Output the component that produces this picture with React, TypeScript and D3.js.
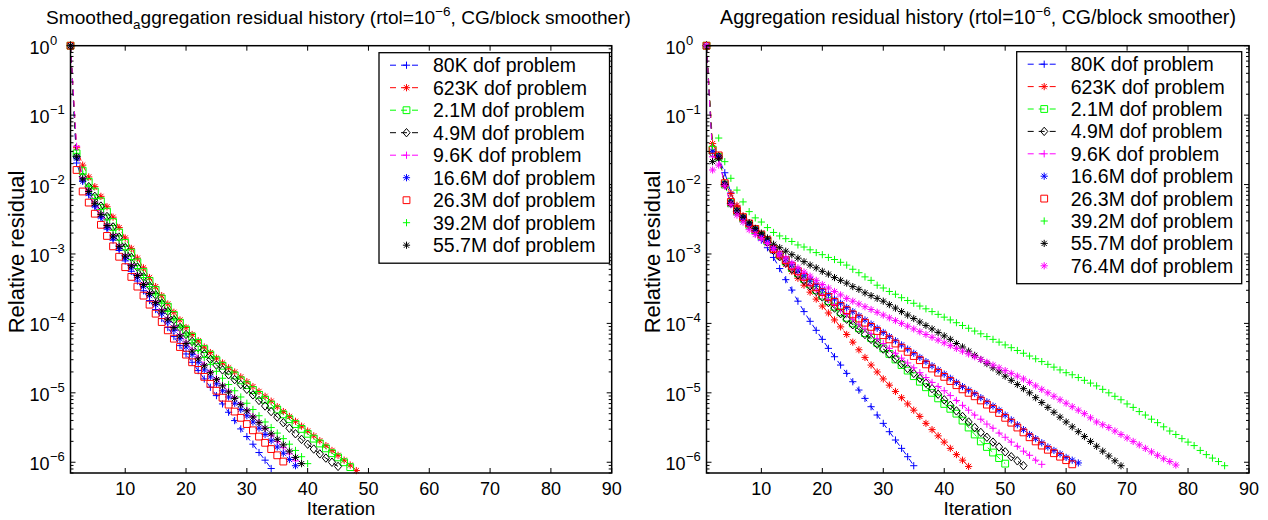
import React from 'react';
import * as d3 from 'd3';

const FONT = "'Liberation Sans', Arial, Helvetica, sans-serif";

// ---------- shared axis data ----------
const xTicks = [10, 20, 30, 40, 50, 60, 70, 80, 90];
const yDecades = [0, -1, -2, -3, -4, -5, -6];
const xDomain = [1, 90];
const yDomain = [7e-7, 1];

const legendLabelsLeft = [
  '80K dof problem', '623K dof problem', '2.1M dof problem', '4.9M dof problem',
  '9.6K dof problem', '16.6M dof problem', '26.3M dof problem', '39.2M dof problem',
  '55.7M dof problem',
];
const legendLabelsRight = [...legendLabelsLeft, '76.4M dof problem'];

// ---------- left: smoothed aggregation (log10 of relative residual, iteration 1..n) ----------
const sa80K = [0, -1.69, -1.95, -2.15, -2.32, -2.48, -2.64, -2.8, -2.95, -3.1, -3.25, -3.39, -3.53, -3.67, -3.8, -3.93, -4.06, -4.19, -4.32, -4.44, -4.56, -4.68, -4.8, -4.92, -5.04, -5.16, -5.28, -5.4, -5.52, -5.63, -5.74, -5.86, -5.97, -6.09];
const sa623K = [0, -1.47, -1.72, -1.89, -2.03, -2.17, -2.32, -2.47, -2.62, -2.77, -2.92, -3.06, -3.2, -3.34, -3.47, -3.6, -3.72, -3.84, -3.95, -4.06, -4.16, -4.25, -4.34, -4.42, -4.5, -4.57, -4.64, -4.7, -4.77, -4.84, -4.91, -4.98, -5.05, -5.12, -5.2, -5.27, -5.34, -5.41, -5.48, -5.55, -5.62, -5.69, -5.76, -5.83, -5.9, -5.97, -6.04, -6.12];
const sa2_1M = [0, -1.55, -1.8, -1.96, -2.1, -2.24, -2.39, -2.54, -2.69, -2.84, -2.98, -3.12, -3.26, -3.39, -3.52, -3.64, -3.76, -3.88, -3.99, -4.09, -4.19, -4.28, -4.37, -4.45, -4.53, -4.61, -4.68, -4.75, -4.82, -4.89, -4.96, -5.03, -5.1, -5.17, -5.24, -5.31, -5.38, -5.45, -5.52, -5.59, -5.66, -5.73, -5.8, -5.87, -5.93, -6.0, -6.07];
const sa4_9M = [0, -1.6, -1.89, -2.03, -2.17, -2.31, -2.46, -2.61, -2.76, -2.91, -3.05, -3.19, -3.33, -3.46, -3.59, -3.71, -3.83, -3.95, -4.06, -4.16, -4.26, -4.35, -4.44, -4.52, -4.6, -4.67, -4.74, -4.81, -4.88, -4.95, -5.03, -5.11, -5.19, -5.27, -5.35, -5.43, -5.51, -5.59, -5.67, -5.74, -5.81, -5.88, -5.94, -6.0, -6.06];
const sa9_6K = [0, -1.45, -1.9, -2.08, -2.25, -2.41, -2.57, -2.72, -2.87, -3.01, -3.15, -3.29, -3.42, -3.55, -3.68, -3.8, -3.92, -4.04, -4.16, -4.27, -4.38, -4.49, -4.59, -4.69, -4.79, -4.89, -4.98, -5.07, -5.16, -5.25, -5.34, -5.43, -5.52, -5.61, -5.7, -5.79, -5.88, -5.98];
const sa16_6M = [0, -1.62, -1.95, -2.13, -2.3, -2.46, -2.62, -2.77, -2.92, -3.06, -3.2, -3.34, -3.47, -3.6, -3.73, -3.86, -3.98, -4.1, -4.22, -4.34, -4.45, -4.56, -4.67, -4.77, -4.87, -4.97, -5.06, -5.15, -5.24, -5.33, -5.42, -5.51, -5.6, -5.69, -5.78, -5.87, -5.96, -6.05];
const sa26_3M = [0, -1.79, -2.1, -2.26, -2.42, -2.58, -2.74, -2.89, -3.04, -3.19, -3.33, -3.47, -3.6, -3.73, -3.86, -3.98, -4.1, -4.22, -4.34, -4.45, -4.56, -4.67, -4.77, -4.87, -4.97, -5.07, -5.17, -5.27, -5.36, -5.45, -5.54, -5.63, -5.72, -5.81, -5.9, -5.99];
const sa39_2M = [0, -1.55, -1.85, -2.03, -2.2, -2.36, -2.51, -2.66, -2.8, -2.94, -3.08, -3.21, -3.34, -3.47, -3.59, -3.71, -3.83, -3.95, -4.06, -4.17, -4.28, -4.39, -4.49, -4.59, -4.69, -4.79, -4.88, -4.97, -5.06, -5.15, -5.24, -5.33, -5.42, -5.5, -5.58, -5.66, -5.74, -5.83, -5.92, -6.02];
const sa55_7M = [0, -1.6, -1.92, -2.1, -2.27, -2.43, -2.59, -2.74, -2.89, -3.03, -3.17, -3.31, -3.44, -3.57, -3.7, -3.82, -3.94, -4.06, -4.18, -4.29, -4.4, -4.51, -4.61, -4.71, -4.81, -4.9, -4.99, -5.08, -5.17, -5.26, -5.35, -5.43, -5.51, -5.59, -5.67, -5.75, -5.84, -5.93, -6.02];

// ---------- right: plain aggregation (log10 of relative residual, iteration 1..n) ----------
const ag80K = [0, -1.55, -1.62, -1.83, -2.12, -2.32, -2.46, -2.58, -2.7, -2.8, -2.91, -3.05, -3.21, -3.37, -3.52, -3.68, -3.83, -3.97, -4.1, -4.23, -4.36, -4.48, -4.6, -4.72, -4.84, -4.96, -5.08, -5.2, -5.32, -5.44, -5.56, -5.68, -5.8, -5.92, -6.05];
const ag623K = [0, -1.41, -1.58, -1.98, -2.13, -2.3, -2.45, -2.56, -2.66, -2.75, -2.85, -2.95, -3.04, -3.15, -3.25, -3.35, -3.45, -3.55, -3.65, -3.75, -3.85, -3.95, -4.05, -4.16, -4.27, -4.38, -4.49, -4.6, -4.7, -4.8, -4.89, -4.98, -5.07, -5.16, -5.25, -5.34, -5.44, -5.53, -5.62, -5.71, -5.8, -5.89, -5.97, -6.06];
const ag2_1M = [0, -1.5, -1.6, -2.0, -2.27, -2.39, -2.49, -2.58, -2.66, -2.74, -2.82, -2.93, -3.02, -3.11, -3.2, -3.28, -3.36, -3.44, -3.52, -3.6, -3.68, -3.76, -3.84, -3.92, -4.0, -4.07, -4.14, -4.21, -4.28, -4.36, -4.44, -4.52, -4.6, -4.68, -4.76, -4.84, -4.92, -5.0, -5.08, -5.16, -5.23, -5.3, -5.4, -5.5, -5.6, -5.7, -5.78, -5.86, -5.94, -6.02];
const ag4_9M = [0, -1.55, -1.6, -2.0, -2.27, -2.39, -2.49, -2.58, -2.66, -2.74, -2.83, -2.95, -3.04, -3.13, -3.22, -3.3, -3.38, -3.46, -3.54, -3.62, -3.7, -3.78, -3.86, -3.94, -4.02, -4.09, -4.16, -4.23, -4.3, -4.37, -4.44, -4.51, -4.58, -4.65, -4.72, -4.79, -4.86, -4.94, -5.02, -5.1, -5.18, -5.26, -5.34, -5.42, -5.5, -5.57, -5.64, -5.71, -5.78, -5.85, -5.92, -5.98, -6.05];
const ag9_6K = [0, -1.6, -1.62, -2.02, -2.28, -2.4, -2.5, -2.6, -2.68, -2.76, -2.84, -2.95, -3.04, -3.13, -3.21, -3.29, -3.37, -3.45, -3.52, -3.59, -3.66, -3.73, -3.8, -3.87, -3.94, -4.01, -4.08, -4.15, -4.22, -4.29, -4.36, -4.43, -4.5, -4.57, -4.64, -4.71, -4.78, -4.85, -4.91, -4.97, -5.04, -5.11, -5.18, -5.25, -5.32, -5.38, -5.45, -5.51, -5.58, -5.64, -5.71, -5.77, -5.84, -5.9, -5.97, -6.03];
const ag16_6M = [0, -1.52, -1.6, -1.99, -2.26, -2.38, -2.48, -2.57, -2.65, -2.73, -2.81, -2.91, -2.99, -3.07, -3.15, -3.23, -3.3, -3.37, -3.44, -3.51, -3.58, -3.65, -3.71, -3.77, -3.83, -3.89, -3.95, -4.01, -4.07, -4.13, -4.19, -4.25, -4.31, -4.37, -4.43, -4.49, -4.55, -4.61, -4.67, -4.73, -4.79, -4.85, -4.91, -4.96, -5.01, -5.07, -5.13, -5.19, -5.25, -5.32, -5.39, -5.46, -5.53, -5.6, -5.66, -5.72, -5.78, -5.83, -5.88, -5.93, -5.97, -6.01];
const ag26_3M = [0, -1.5, -1.58, -1.98, -2.25, -2.37, -2.47, -2.56, -2.64, -2.72, -2.8, -2.93, -3.01, -3.09, -3.17, -3.25, -3.33, -3.41, -3.48, -3.55, -3.62, -3.69, -3.75, -3.81, -3.87, -3.93, -3.99, -4.05, -4.11, -4.17, -4.23, -4.29, -4.35, -4.41, -4.47, -4.53, -4.59, -4.65, -4.71, -4.77, -4.83, -4.89, -4.95, -5.0, -5.05, -5.11, -5.17, -5.23, -5.29, -5.36, -5.43, -5.5, -5.57, -5.64, -5.7, -5.76, -5.82, -5.87, -5.92, -5.97, -6.03];
const ag39_2M = [0, -1.45, -1.33, -1.67, -1.91, -2.08, -2.25, -2.39, -2.48, -2.54, -2.62, -2.69, -2.74, -2.78, -2.82, -2.87, -2.9, -2.94, -2.98, -3.01, -3.05, -3.08, -3.12, -3.16, -3.22, -3.27, -3.33, -3.38, -3.45, -3.49, -3.54, -3.58, -3.63, -3.67, -3.71, -3.75, -3.79, -3.83, -3.87, -3.91, -3.95, -3.99, -4.03, -4.07, -4.11, -4.15, -4.19, -4.23, -4.27, -4.31, -4.35, -4.39, -4.43, -4.47, -4.51, -4.55, -4.59, -4.63, -4.67, -4.71, -4.74, -4.78, -4.82, -4.86, -4.9, -4.95, -5.0, -5.05, -5.1, -5.16, -5.21, -5.27, -5.32, -5.38, -5.43, -5.49, -5.55, -5.6, -5.66, -5.71, -5.76, -5.83, -5.89, -5.94, -5.99, -6.05];
const ag55_7M = [0, -1.67, -1.62, -2.0, -2.27, -2.38, -2.47, -2.55, -2.63, -2.7, -2.77, -2.86, -2.91, -2.96, -3.01, -3.06, -3.11, -3.16, -3.2, -3.25, -3.29, -3.34, -3.38, -3.42, -3.47, -3.51, -3.56, -3.6, -3.64, -3.68, -3.73, -3.78, -3.83, -3.88, -3.93, -3.98, -4.03, -4.08, -4.13, -4.18, -4.23, -4.29, -4.34, -4.4, -4.46, -4.52, -4.58, -4.64, -4.7, -4.76, -4.82, -4.88, -4.94, -5.0, -5.07, -5.14, -5.21, -5.28, -5.35, -5.42, -5.49, -5.56, -5.63, -5.7, -5.77, -5.84, -5.91, -5.98, -6.05];
const ag76_4M = [0, -1.79, -1.72, -2.02, -2.29, -2.44, -2.54, -2.65, -2.72, -2.78, -2.85, -2.92, -2.99, -3.06, -3.13, -3.2, -3.26, -3.32, -3.38, -3.44, -3.49, -3.54, -3.59, -3.64, -3.68, -3.72, -3.76, -3.8, -3.84, -3.88, -3.92, -3.96, -4.0, -4.04, -4.08, -4.12, -4.16, -4.2, -4.24, -4.28, -4.32, -4.36, -4.4, -4.44, -4.48, -4.52, -4.56, -4.6, -4.64, -4.68, -4.72, -4.76, -4.8, -4.85, -4.9, -4.95, -5.0, -5.05, -5.1, -5.15, -5.2, -5.25, -5.3, -5.36, -5.42, -5.46, -5.5, -5.55, -5.6, -5.65, -5.7, -5.75, -5.8, -5.85, -5.9, -5.95, -5.99, -6.04];

// ---------- styles (kept apart from data) ----------
type MarkerKind = 'plus' | 'star' | 'square' | 'diamond';
const seriesStyles: { color: string; marker: MarkerKind; dashed: boolean }[] = [
  { color: '#0000ff', marker: 'plus', dashed: true },
  { color: '#ff0000', marker: 'star', dashed: true },
  { color: '#00ff00', marker: 'square', dashed: true },
  { color: '#000000', marker: 'diamond', dashed: true },
  { color: '#ff00ff', marker: 'plus', dashed: true },
  { color: '#0000ff', marker: 'star', dashed: false },
  { color: '#ff0000', marker: 'square', dashed: false },
  { color: '#00ff00', marker: 'plus', dashed: false },
  { color: '#000000', marker: 'star', dashed: false },
  { color: '#ff00ff', marker: 'star', dashed: false },
];

const leftSeries = [sa80K, sa623K, sa2_1M, sa4_9M, sa9_6K, sa16_6M, sa26_3M, sa39_2M, sa55_7M];
const rightSeries = [ag80K, ag623K, ag2_1M, ag4_9M, ag9_6K, ag16_6M, ag26_3M, ag39_2M, ag55_7M, ag76_4M];

function markerPath(kind: MarkerKind, x: number, y: number): string {
  const r = 3.6;
  if (kind === 'plus') return `M${x - r},${y}H${x + r}M${x},${y - r}V${y + r}`;
  if (kind === 'star') {
    const q = r * 0.72;
    return `M${x - r},${y}H${x + r}M${x},${y - r}V${y + r}M${x - q},${y - q}L${x + q},${y + q}M${x - q},${y + q}L${x + q},${y - q}`;
  }
  if (kind === 'square') {
    const s = 3.4;
    return `M${x - s},${y - s}H${x + s}V${y + s}H${x - s}Z`;
  }
  const w = 3.6, h = 4.2;
  return `M${x},${y - h}L${x + w},${y}L${x},${y + h}L${x - w},${y}Z`;
}

type PanelProps = {
  x0: number; x1: number; y0: number; y1: number;
  series: number[][];
  labels: string[];
  legend: { left: number; right: number; top: number; rowH: number };
  titleX: number;
  titleFs: number;
  title: React.ReactNode;
};

function Panel({ x0, x1, y0, y1, series, labels, legend, titleX, titleFs, title }: PanelProps) {
  const xs = d3.scaleLinear().domain(xDomain).range([x0, x1]);
  const ys = d3.scaleLog().domain(yDomain).range([y1, y0]);
  const line = d3.line<number>().x((_, i) => xs(i + 1)).y((v) => ys(Math.pow(10, v)));

  const minorTicks: number[] = [];
  for (let k = -7; k <= -1; k++) {
    for (let m = 2; m <= 9; m++) {
      const v = m * Math.pow(10, k);
      if (v >= yDomain[0] && v <= yDomain[1]) minorTicks.push(v);
    }
  }
  const tickFs = 18;
  const legendBottom = legend.top + legend.rowH * labels.length + 8;
  const cx = (x0 + x1) / 2;

  return (
    <g>
      {series.map((s, i) => {
        const st = seriesStyles[i];
        return (
          <g key={i}>
            {st.dashed && (
              <path d={line(s) || ''} fill="none" stroke={st.color} strokeWidth={1} strokeDasharray="6,5" />
            )}
            <path
              d={s.map((v, j) => markerPath(st.marker, xs(j + 1), ys(Math.pow(10, v)))).join('')}
              fill="none"
              stroke={st.color}
              strokeWidth={1}
            />
          </g>
        );
      })}

      <rect x={x0} y={y0} width={x1 - x0} height={y1 - y0} fill="none" stroke="#000" strokeWidth={1.5} />
      {xTicks.map((t) => (
        <g key={t}>
          <line x1={xs(t)} x2={xs(t)} y1={y1} y2={y1 - 5} stroke="#000" />
          <line x1={xs(t)} x2={xs(t)} y1={y0} y2={y0 + 5} stroke="#000" />
          <text x={xs(t)} y={y1 + 22} textAnchor="middle" fontSize={tickFs} fontFamily={FONT}>{t}</text>
        </g>
      ))}
      {yDecades.map((e) => {
        const y = ys(Math.pow(10, e));
        return (
          <g key={e}>
            <line x1={x0} x2={x0 + 5} y1={y} y2={y} stroke="#000" />
            <line x1={x1} x2={x1 - 5} y1={y} y2={y} stroke="#000" />
            <text x={x0 - 21} y={y + 8} textAnchor="end" fontSize={tickFs} fontFamily={FONT}>10</text>
            <text x={x0 - 20.5} y={y - 1} textAnchor="start" fontSize={13} fontFamily={FONT}>
              {e === 0 ? '0' : '\u2212' + String(-e)}
            </text>
          </g>
        );
      })}
      {minorTicks.map((v, i) => (
        <g key={'m' + i}>
          <line x1={x0} x2={x0 + 3} y1={ys(v)} y2={ys(v)} stroke="#000" />
          <line x1={x1} x2={x1 - 3} y1={ys(v)} y2={ys(v)} stroke="#000" />
        </g>
      ))}

      <text x={cx} y={y1 + 42} textAnchor="middle" fontSize={19} fontFamily={FONT}>Iteration</text>
      <text
        transform={`translate(${x0 - 47},252) rotate(-90)`}
        textAnchor="middle"
        fontSize={22}
        fontFamily={FONT}
      >
        Relative residual
      </text>
      <text x={titleX} y={24} textAnchor="middle" fontSize={titleFs} fontFamily={FONT}>{title}</text>

      <rect
        x={legend.left}
        y={legend.top}
        width={legend.right - legend.left}
        height={legendBottom - legend.top}
        fill="#fff"
        stroke="#000"
        strokeWidth={1.3}
      />
      {labels.map((lab, i) => {
        const st = seriesStyles[i];
        const ry = legend.top + 12.5 + i * legend.rowH;
        const lx0 = legend.left + 11;
        const lx1 = legend.left + 44;
        const mx = (lx0 + lx1) / 2;
        return (
          <g key={lab}>
            {st.dashed && (
              <line x1={lx0} x2={lx1} y1={ry} y2={ry} stroke={st.color} strokeWidth={1} strokeDasharray="6,5" />
            )}
            <path d={markerPath(st.marker, mx, ry)} fill="none" stroke={st.color} strokeWidth={1} />
            <text x={legend.left + 54} y={ry + 7} fontSize={19.5} fontFamily={FONT}>{lab}</text>
          </g>
        );
      })}
    </g>
  );
}

export default function App() {
  const sub = { fontSize: 13.5 };
  return (
    <svg
      width={1268}
      height={520}
      viewBox="0 0 1268 520"
      style={{ position: 'absolute', left: 0, top: 0, background: '#fff' }}
    >
      <rect x={0} y={0} width={1268} height={520} fill="#fff" />
      <Panel
        x0={70.5}
        x1={611.7}
        y0={45.7}
        y1={473}
        series={leftSeries}
        labels={legendLabelsLeft}
        legend={{ left: 379, right: 609.5, top: 52.7, rowH: 22.5 }}
        titleX={338.5}
        titleFs={19.1}
        title={
          <>
            <tspan>Smoothed</tspan>
            <tspan dy={5} style={sub}>a</tspan>
            <tspan dy={-5}>ggregation residual history (rtol=10</tspan>
            <tspan dy={-8} style={sub}>{'\u22126'}</tspan>
            <tspan dy={8}>, CG/block smoother)</tspan>
          </>
        }
      />
      <Panel
        x0={706.5}
        x1={1249}
        y0={45.7}
        y1={473}
        series={rightSeries}
        labels={legendLabelsRight}
        legend={{ left: 1016.7, right: 1241.7, top: 51.7, rowH: 22.4 }}
        titleX={978}
        titleFs={19.6}
        title={
          <>
            <tspan>Aggregation residual history (rtol=10</tspan>
            <tspan dy={-8} style={sub}>{'\u22126'}</tspan>
            <tspan dy={8}>, CG/block smoother)</tspan>
          </>
        }
      />
    </svg>
  );
}
